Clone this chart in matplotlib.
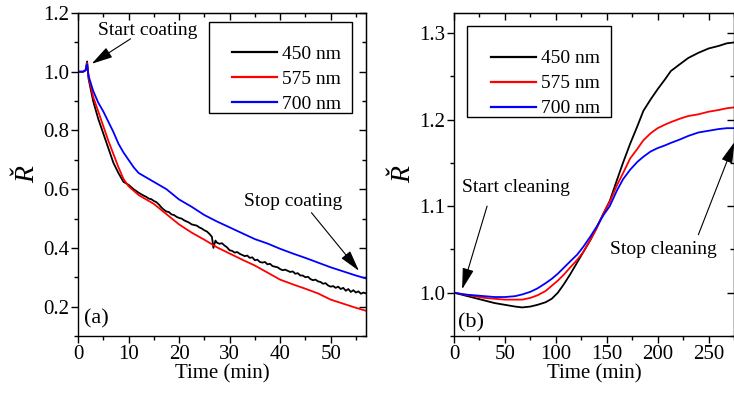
#!/usr/bin/env python3
import numpy as np
import matplotlib
matplotlib.use('Agg')
import matplotlib.pyplot as plt
from matplotlib.patches import Rectangle
from matplotlib.ticker import MultipleLocator

plt.rcParams['font.family'] = ['Liberation Serif', 'DejaVu Serif']
plt.rcParams['font.size'] = 15

labels = ['450 nm', '575 nm', '700 nm']
colors = ['black', 'red', 'blue']

# panel (a): coating
t_black_a = [0, 1, 1.5, 1.8, 2.1, 3, 4, 5, 6, 7, 8, 9, 10, 11, 12,
             13.0, 13.5, 14.0, 14.5, 15.0, 15.5, 16.0, 16.5, 17.0, 17.5, 18.0, 18.5,
             19.0, 19.5, 20.0, 20.5, 21.0, 21.5, 22.0, 22.5, 23.0, 23.5, 24.0, 24.5,
             25.0, 25.5, 26.0, 26.5, 26.8, 27.2, 27.5, 28.0, 28.5, 29.0, 29.5,
             30.0, 30.5, 31.0, 31.5, 32.0, 32.5, 33.0, 33.5, 34.0, 34.5, 35.0, 35.5,
             36.0, 36.5, 37.0, 37.5, 38.0, 38.5, 39.0, 39.5, 40.0, 40.5, 41.0, 41.5,
             42.0, 42.5, 43.0, 43.5, 44.0, 44.5, 45.0, 45.5, 46.0, 46.5, 47.0, 47.5,
             48.0, 48.5, 49.0, 49.5, 50.0, 50.5, 51.0, 51.5, 52.0, 52.5, 53.0, 53.5,
             54.0, 54.5, 55.0, 55.5, 56.0, 56.5, 57.0]
r_black_a = [1.0, 1.0, 1.005, 1.035, 0.975, 0.90, 0.84, 0.79, 0.74, 0.69, 0.655, 0.625,
             0.615, 0.60, 0.588,
             0.578, 0.574, 0.568, 0.566, 0.560, 0.556, 0.548, 0.538, 0.530, 0.524,
             0.522, 0.514, 0.512, 0.506, 0.502, 0.500, 0.494, 0.490, 0.486, 0.480,
             0.478, 0.476, 0.470, 0.466, 0.460, 0.456, 0.448, 0.438, 0.400, 0.425,
             0.418, 0.414, 0.416, 0.408, 0.402,
             0.392, 0.390, 0.384, 0.386, 0.380, 0.376, 0.372, 0.374, 0.366, 0.368,
             0.358, 0.360, 0.352, 0.350, 0.352, 0.344, 0.346, 0.338, 0.336, 0.334,
             0.328, 0.324, 0.326, 0.322, 0.318, 0.320, 0.312, 0.314, 0.306, 0.306,
             0.300, 0.302, 0.294, 0.290, 0.292, 0.286, 0.284, 0.278, 0.280, 0.272,
             0.268, 0.270, 0.264, 0.268, 0.260, 0.264, 0.254, 0.260, 0.250, 0.256,
             0.248, 0.252, 0.244, 0.248, 0.245]

t_red_a = [0, 1, 1.5, 1.8, 2.1, 3, 4, 5, 6, 7, 8, 9, 10, 11, 12, 13, 15, 17.5, 20,
           22.5, 25, 27.5, 30, 32.5, 35, 37.5, 40, 42.5, 45, 47.5, 50, 52.5, 55, 57]
r_red_a = [1.0, 1.0, 1.005, 1.03, 0.98, 0.915, 0.865, 0.815, 0.765, 0.72, 0.675, 0.635,
           0.61, 0.595, 0.58, 0.57, 0.55, 0.515, 0.48, 0.452, 0.428, 0.402, 0.381,
           0.36, 0.34, 0.316, 0.292, 0.276, 0.261, 0.245, 0.224, 0.21, 0.196, 0.186]

t_blue_a = [0, 1, 1.5, 1.8, 2.1, 3, 4, 5, 6, 7, 8, 9, 10, 11, 12, 13, 15, 17.5, 20,
            22.5, 25, 27.5, 30, 32.5, 35, 37.5, 40, 42.5, 45, 47.5, 50, 52.5, 55, 57]
r_blue_a = [1.0, 1.0, 1.005, 1.025, 0.985, 0.935, 0.895, 0.865, 0.83, 0.795, 0.755,
            0.725, 0.70, 0.675, 0.655, 0.645, 0.625, 0.60, 0.565, 0.54, 0.512, 0.49,
            0.47, 0.45, 0.43, 0.415, 0.397, 0.381, 0.366, 0.35, 0.334, 0.32, 0.306, 0.296]

# panel (b): cleaning
t_b = [0, 10, 20, 30, 40, 50, 60, 67, 75, 82, 90, 96, 102, 108, 114, 121, 127, 134,
       140, 147, 153, 160, 166, 173, 180, 186, 193, 200, 207, 213, 222, 230, 240, 250,
       260, 268, 275]
r_black_b = [1.0, 0.997, 0.994, 0.991, 0.988, 0.986, 0.984, 0.983, 0.984, 0.986, 0.989,
             0.993, 1.0, 1.010, 1.021, 1.035, 1.047, 1.061, 1.075, 1.092, 1.106, 1.13,
             1.150, 1.172, 1.192, 1.21, 1.223, 1.235, 1.246, 1.256, 1.264, 1.271, 1.277,
             1.282, 1.285, 1.288, 1.289]
r_red_b = [1.0, 0.998, 0.996, 0.994, 0.993, 0.992, 0.992, 0.992, 0.994, 0.997, 1.002,
           1.008, 1.014, 1.021, 1.029, 1.038, 1.047, 1.061, 1.074, 1.092, 1.105, 1.124,
           1.138, 1.155, 1.166, 1.176, 1.184, 1.19, 1.194, 1.197, 1.201, 1.204, 1.206,
           1.209, 1.211, 1.213, 1.214]
r_blue_b = [1.0, 0.998, 0.997, 0.996, 0.995, 0.995, 0.996, 0.998, 1.001, 1.005, 1.011,
            1.016, 1.022, 1.029, 1.036, 1.044, 1.053, 1.065, 1.076, 1.09, 1.1, 1.118,
            1.131, 1.142, 1.151, 1.157, 1.163, 1.167, 1.17, 1.173, 1.177, 1.181, 1.185,
            1.187, 1.189, 1.19, 1.19]


def style_axes(ax, xmaj, xmin, ymaj, ymin):
    ax.xaxis.set_major_locator(MultipleLocator(xmaj))
    ax.xaxis.set_minor_locator(MultipleLocator(xmin))
    ax.yaxis.set_major_locator(MultipleLocator(ymaj))
    ax.yaxis.set_minor_locator(MultipleLocator(ymin))
    ax.tick_params(which='major', direction='out', length=5, width=1, pad=1.5)
    ax.tick_params(which='minor', direction='out', length=3, width=1)
    top = ax.secondary_xaxis('top')
    top.xaxis.set_major_locator(MultipleLocator(xmaj))
    top.xaxis.set_minor_locator(MultipleLocator(xmin))
    right = ax.secondary_yaxis('right')
    right.yaxis.set_major_locator(MultipleLocator(ymaj))
    right.yaxis.set_minor_locator(MultipleLocator(ymin))
    for sec in (top, right):
        sec.tick_params(which='major', direction='in', length=5, width=1,
                        labeltop=False, labelright=False)
        sec.tick_params(which='minor', direction='in', length=3, width=1)
    for s in ax.spines.values():
        s.set_linewidth(1)


def add_legend(ax, box, anchor):
    # frame drawn separately: the original has a wide left margin and empty top row
    ax.add_patch(Rectangle(box[:2], box[2], box[3], transform=ax.transAxes,
                           facecolor='white', edgecolor='black', lw=1, zorder=4))
    leg = ax.legend(loc='upper left', bbox_to_anchor=anchor, borderaxespad=0,
                    frameon=False, handlelength=2.3, borderpad=0,
                    labelspacing=0.38, handletextpad=0.28, fontsize=14)
    leg.set_zorder(5)
    for line in leg.get_lines():
        line.set_linewidth(1.6)


arrow = dict(arrowstyle='-|>,head_length=1.3,head_width=0.35', color='black',
             lw=0.8, mutation_scale=10, shrinkA=0, shrinkB=0)

fig = plt.figure(figsize=(7.34, 3.94), dpi=100)

ax1 = fig.add_axes([78 / 734, 58 / 394, 288 / 734, 323 / 394])
ax1.plot(t_black_a, r_black_a, color=colors[0], lw=1.3, label=labels[0])
ax1.plot(t_red_a, r_red_a, color=colors[1], lw=1.3, label=labels[1])
ax1.plot(t_blue_a, r_blue_a, color=colors[2], lw=1.3, label=labels[2])
ax1.set_xlim(0, 57)
ax1.set_ylim(0.1, 1.2)
style_axes(ax1, 10, 5, 0.2, 0.1)
ax1.set_xlabel('Time (min)', labelpad=0)
ax1.set_ylabel('Ř', fontstyle='italic', fontsize=20, labelpad=2)
ax1.text(1.2, 0.158, '(a)', fontsize=16, va='center')
ax1.annotate('', xy=(2.7, 1.027), xytext=(10.4, 1.112), arrowprops=arrow)
ax1.text(3.9, 1.14, 'Start coating', va='center', fontsize=14)
ax1.annotate('', xy=(55.6, 0.322), xytext=(46.2, 0.52), arrowprops=arrow)
ax1.text(32.9, 0.557, 'Stop coating', va='center', fontsize=14)
add_legend(ax1, (0.455, 0.690, 0.497, 0.282), (0.535, 0.900))

ax2 = fig.add_axes([454 / 734, 58 / 394, 280 / 734, 323 / 394])
ax2.plot(t_b, r_black_b, color=colors[0], lw=1.3, label=labels[0])
ax2.plot(t_b, r_red_b, color=colors[1], lw=1.3, label=labels[1])
ax2.plot(t_b, r_blue_b, color=colors[2], lw=1.3, label=labels[2])
ax2.set_xlim(0, 275)
ax2.set_ylim(0.95, 1.323)
style_axes(ax2, 50, 25, 0.1, 0.05)
ax2.set_xlabel('Time (min)', labelpad=0)
ax2.set_ylabel('Ř', fontstyle='italic', fontsize=20, labelpad=2)
ax2.text(4, 0.965, '(b)', fontsize=16, va='center')
ax2.annotate('', xy=(8, 1.004), xytext=(32.5, 1.1), arrowprops=arrow)
ax2.text(7.9, 1.121, 'Start cleaning', va='center', fontsize=14)
ax2.annotate('', xy=(275.5, 1.174), xytext=(240, 1.067), arrowprops=arrow,
             annotation_clip=False)
ax2.text(153.5, 1.05, 'Stop cleaning', va='center', fontsize=14)
add_legend(ax2, (0.046, 0.678, 0.514, 0.283), (0.132, 0.886))

plt.savefig('out.png', dpi=100)
